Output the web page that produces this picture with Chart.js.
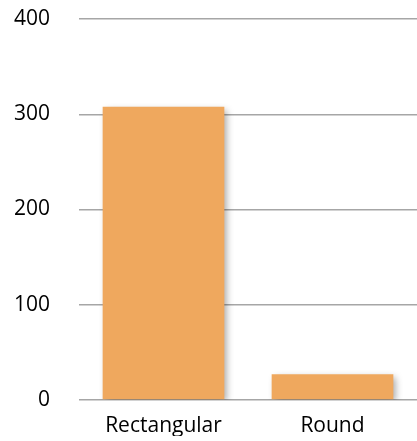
<!DOCTYPE html>
<html>
<head>
<meta charset="utf-8">
<script src="https://cdn.jsdelivr.net/npm/chart.js@4/dist/chart.umd.min.js"></script>
<style>
  html, body { margin: 0; padding: 0; background: #fff; }
  #wrap { width: 417px; height: 441px; }
</style>
</head>
<body>
<div id="wrap"><canvas id="shapeChart" width="417" height="441"></canvas></div>
<script>
const categories = ["Rectangular", "Round"];
const counts = [308, 27];
const yTicks = [0, 100, 200, 300, 400];

// soft drop shadow under the bars
const barShadow = {
  id: "barShadow",
  beforeDatasetsDraw(chart) {
    const ctx = chart.ctx;
    ctx.save();
    ctx.shadowColor = "rgba(0, 0, 0, 0.35)";
    ctx.shadowBlur = 7;
    ctx.shadowOffsetX = 3;
    ctx.shadowOffsetY = 3;
  },
  afterDatasetsDraw(chart) {
    chart.ctx.restore();
  }
};

const labelFont = { family: "Open Sans", size: 21 };

const ctx = document.getElementById("shapeChart").getContext("2d");
new Chart(ctx, {
  type: "bar",
  data: {
    labels: categories,
    datasets: [{
      data: counts,
      backgroundColor: "#EFA85E",
      borderWidth: 0,
      barPercentage: 0.72,
      categoryPercentage: 1
    }]
  },
  options: {
    responsive: false,
    animation: false,
    layout: { autoPadding: false, padding: { top: 19, right: 0, bottom: 5, left: 14 } },
    plugins: {
      legend: { display: false },
      tooltip: { enabled: false }
    },
    scales: {
      x: {
        grid: { display: false },
        border: { display: false },
        ticks: { color: "#000", font: labelFont, padding: 5, maxRotation: 0, autoSkip: false },
        // fixed axis sizes keep the plot area where it belongs
        afterFit(scale) { scale.height = 36; scale.paddingLeft = 0; scale.paddingRight = 0; }
      },
      y: {
        min: 0,
        max: 400,
        afterBuildTicks(scale) {
          scale.ticks = yTicks.map(v => ({ value: v }));
        },
        grid: { color: "#A6A6A6", lineWidth: 1.5, tickLength: 0 },
        border: { display: false },
        ticks: { color: "#000", font: labelFont, padding: 29 },
        afterFit(scale) { scale.width = 65; scale.paddingTop = 0; scale.paddingBottom = 0; }
      }
    }
  },
  plugins: [barShadow]
});
</script>
</body>
</html>
